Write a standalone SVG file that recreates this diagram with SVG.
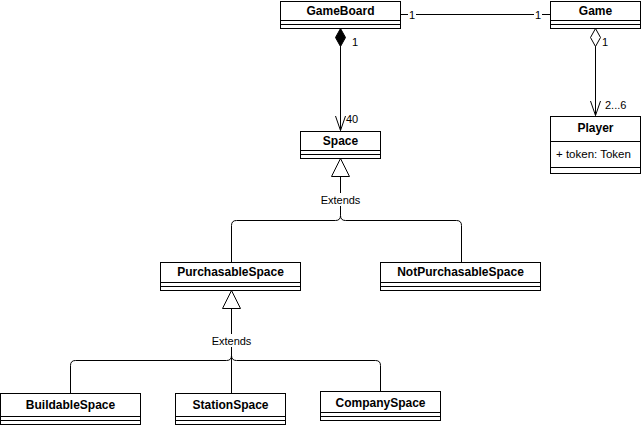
<svg xmlns="http://www.w3.org/2000/svg" width="641" height="427" viewBox="0 0 641 427">
<style>
.box{fill:#fff;stroke:#000;stroke-width:1}
.sep{stroke:#000;stroke-width:1;fill:none}
.name{font-family:"Liberation Sans",Arial,sans-serif;font-size:12px;font-weight:bold;text-anchor:middle;fill:#000}
.attr{font-family:"Liberation Sans",Arial,sans-serif;font-size:11.5px;fill:#000}
.lbl{font-family:"Liberation Sans",Arial,sans-serif;font-size:11px;fill:#000}
.edge{stroke:#000;stroke-width:1;fill:none}
.bg{fill:#fff}
</style>
<rect width="641" height="427" fill="#fff"/>
<g id="connectors">
  <path class="edge" d="M400.5,14.5 H550.5"/>
  <rect class="bg" x="408" y="8" width="8" height="12"/>
  <text class="lbl" x="412" y="18.5" text-anchor="middle">1</text>
  <rect class="bg" x="534" y="8" width="8" height="12"/>
  <text class="lbl" x="538" y="18.5" text-anchor="middle">1</text>
  <path class="edge" d="M340.5,46 V130.5"/>
  <polygon points="340.5,28.5 345.5,37.5 340.5,46.5 335.5,37.5" fill="#000" stroke="#000"/>
  <path class="edge" d="M335.5,116 L340.5,130.5 L345.5,116"/>
  <text class="lbl" x="352" y="46">1</text>
  <text class="lbl" x="346" y="123">40</text>
  <path class="edge" d="M595.5,46 V115.5"/>
  <polygon points="595.5,28.5 600.5,37.5 595.5,46.5 590.5,37.5" fill="#fff" stroke="#000"/>
  <path class="edge" d="M590.5,101 L595.5,115.5 L600.5,101"/>
  <text class="lbl" x="602" y="46">1</text>
  <text class="lbl" x="605" y="109">2...6</text>
  <path class="edge" d="M231.5,262 V225.5 Q231.5,220.5 236.5,220.5 H335.5 Q340.5,220.5 340.5,215.5 V176.5"/>
  <path class="edge" d="M461.5,262 V225.5 Q461.5,220.5 456.5,220.5 H345.5 Q340.5,220.5 340.5,215.5"/>
  <polygon points="340.5,158.5 349.5,176.5 331.5,176.5" fill="#fff" stroke="#000"/>
  <rect class="bg" x="319" y="193" width="43" height="13"/>
  <text class="lbl" x="340.5" y="204" text-anchor="middle">Extends</text>
  <path class="edge" d="M70.5,393 V365.5 Q70.5,360.5 75.5,360.5 H226.5 Q231.5,360.5 231.5,355.5 V308.5"/>
  <path class="edge" d="M231.5,393 V308.5"/>
  <path class="edge" d="M380.5,391 V365.5 Q380.5,360.5 375.5,360.5 H236.5 Q231.5,360.5 231.5,355.5"/>
  <polygon points="231.5,290.5 240.5,308.5 222.5,308.5" fill="#fff" stroke="#000"/>
  <rect class="bg" x="210" y="334" width="43" height="13"/>
  <text class="lbl" x="231.5" y="345" text-anchor="middle">Extends</text>
</g>
<g id="GameBoard">
  <rect class="box" x="280.5" y="1.5" width="120" height="27"/>
  <path class="sep" d="M280.5,20.5 H400.5 M280.5,24.5 H400.5"/>
  <text class="name" x="340.5" y="15">GameBoard</text>
</g>
<g id="Game">
  <rect class="box" x="550.5" y="1.5" width="90" height="27"/>
  <path class="sep" d="M550.5,20.5 H640.5 M550.5,24.5 H640.5"/>
  <text class="name" x="595.5" y="15">Game</text>
</g>
<g id="Player">
  <rect class="box" x="550.5" y="116.5" width="90" height="57"/>
  <path class="sep" d="M550.5,141.5 H640.5 M550.5,167.5 H640.5"/>
  <text class="name" x="595.5" y="132">Player</text>
  <text class="attr" x="556" y="158">+ token: Token</text>
</g>
<g id="Space">
  <rect class="box" x="300.5" y="131.5" width="80" height="27"/>
  <path class="sep" d="M300.5,150.5 H380.5 M300.5,154.5 H380.5"/>
  <text class="name" x="340.5" y="145">Space</text>
</g>
<g id="PurchasableSpace">
  <rect class="box" x="160.5" y="262.5" width="140" height="28"/>
  <path class="sep" d="M160.5,282.5 H300.5 M160.5,286.5 H300.5"/>
  <text class="name" x="230.5" y="276">PurchasableSpace</text>
</g>
<g id="NotPurchasableSpace">
  <rect class="box" x="380.5" y="262.5" width="160" height="28"/>
  <path class="sep" d="M380.5,282.5 H540.5 M380.5,286.5 H540.5"/>
  <text class="name" x="460.5" y="276">NotPurchasableSpace</text>
</g>
<g id="BuildableSpace">
  <rect class="box" x="0.5" y="393.5" width="140" height="31"/>
  <path class="sep" d="M0.5,416.5 H140.5 M0.5,420.5 H140.5"/>
  <text class="name" x="70.5" y="409">BuildableSpace</text>
</g>
<g id="StationSpace">
  <rect class="box" x="175.5" y="393.5" width="110" height="31"/>
  <path class="sep" d="M175.5,416.5 H285.5 M175.5,420.5 H285.5"/>
  <text class="name" x="230.5" y="409">StationSpace</text>
</g>
<g id="CompanySpace">
  <rect class="box" x="320.5" y="391.5" width="120" height="29"/>
  <path class="sep" d="M320.5,412.5 H440.5 M320.5,416.5 H440.5"/>
  <text class="name" x="380.5" y="407">CompanySpace</text>
</g>
</svg>
